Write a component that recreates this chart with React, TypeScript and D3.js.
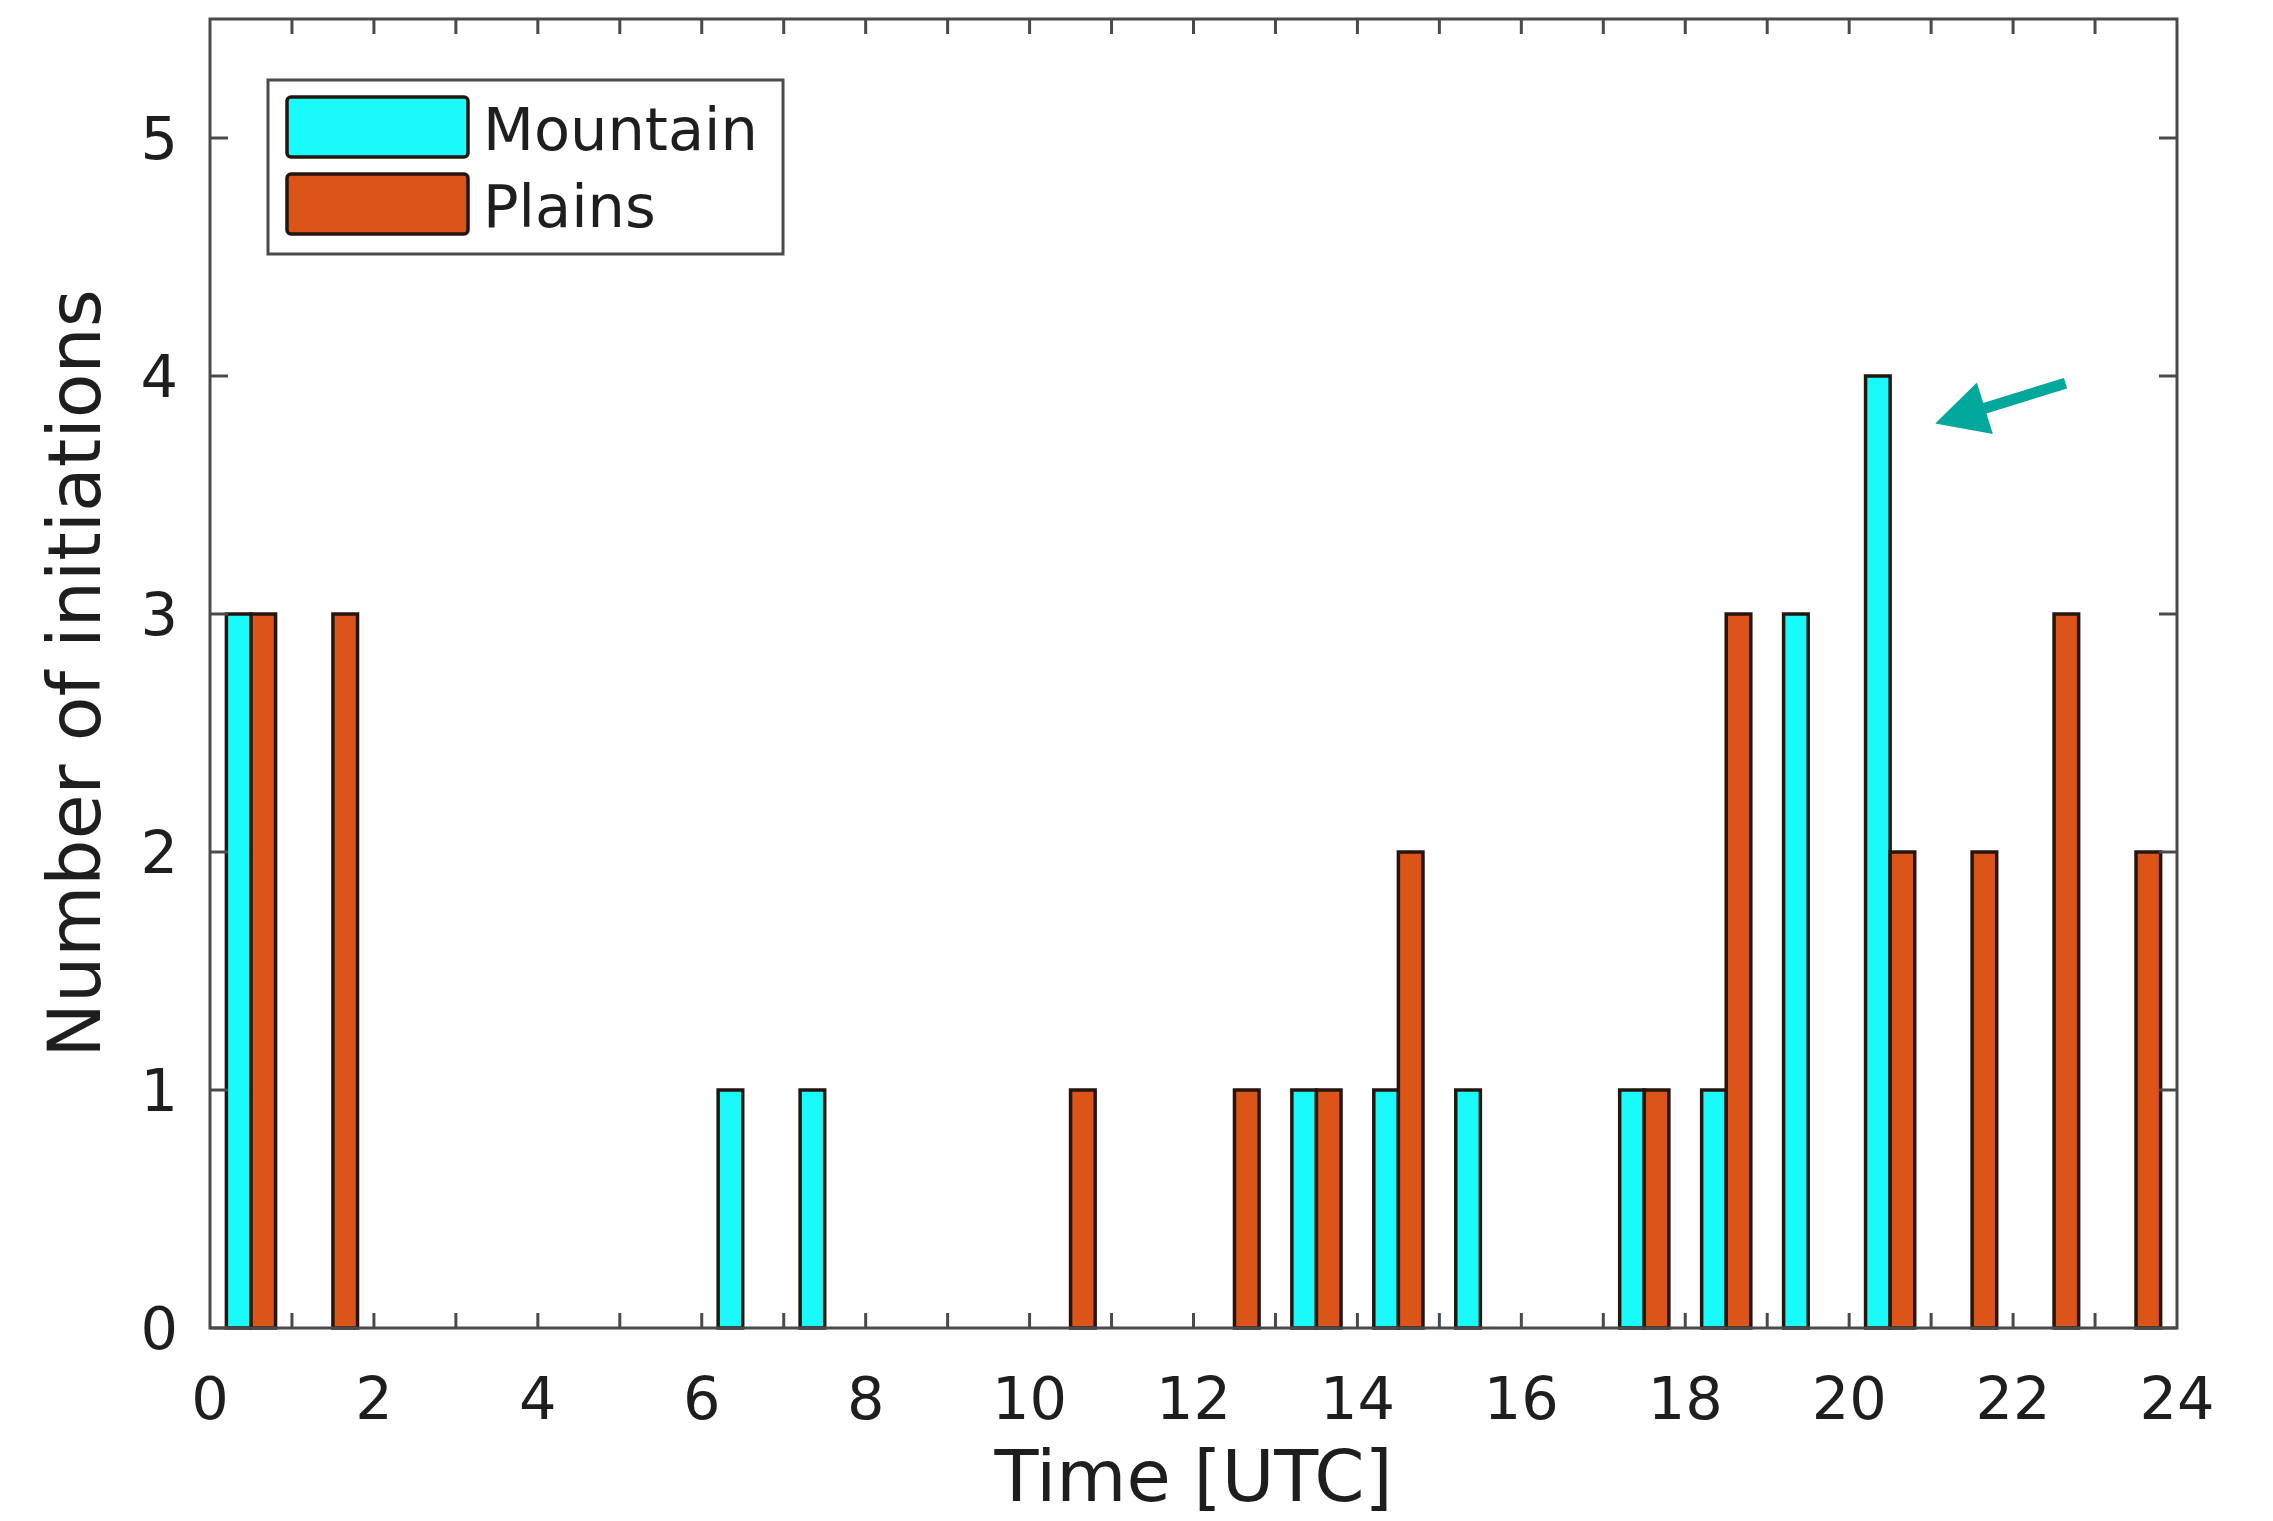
import React, { useRef, useEffect } from "react";
import * as d3 from "d3";

// hourly bins (start hour of each bin)
const binStarts = [0, 1, 2, 3, 4, 5, 6, 7, 8, 9, 10, 11, 12, 13, 14, 15, 16, 17, 18, 19, 20, 21, 22, 23];
const mountainCounts = [3, 0, 0, 0, 0, 0, 1, 1, 0, 0, 0, 0, 0, 1, 1, 1, 0, 1, 1, 3, 4, 0, 0, 0];
const plainsCounts = [3, 3, 0, 0, 0, 0, 0, 0, 0, 0, 1, 0, 1, 1, 2, 0, 0, 1, 3, 0, 2, 2, 3, 2];
const seriesNames = ["Mountain", "Plains"];
const seriesColors = ["#19fbfb", "#dc5518"];
const xTickLabels = [0, 2, 4, 6, 8, 10, 12, 14, 16, 18, 20, 22, 24];
const xMinorTicks = [1, 2, 3, 4, 5, 6, 7, 8, 9, 10, 11, 12, 13, 14, 15, 16, 17, 18, 19, 20, 21, 22, 23];
const yTickLabels = [0, 1, 2, 3, 4, 5];
// annotation arrow, in data units: tail -> tip
const arrowTail = [22.64, 3.97];
const arrowTip = [21.05, 3.8];

const W = 2273;
const H = 1521;
const margin = { top: 19, right: 96, bottom: 193, left: 210 };
const FONT = "'DejaVu Sans', sans-serif";

function App() {
  const svgRef = useRef(null);

  useEffect(() => {
    const svg = d3.select(svgRef.current);
    svg.selectAll("*").remove();

    const x = d3.scaleLinear().domain([0, 24]).range([margin.left, W - margin.right]);
    const y = d3.scaleLinear().domain([0, 5.5]).range([H - margin.bottom, margin.top]);

    const rows = binStarts.map((h, i) => ({ hour: h, values: [mountainCounts[i], plainsCounts[i]] }));

    // bars
    const groups = svg.append("g").selectAll("g").data(rows).join("g");
    groups.each(function (d) {
      const inner = d3.scaleBand().domain(seriesNames).range([x(d.hour + 0.2), x(d.hour + 0.8)]).padding(0);
      d3.select(this)
        .selectAll("rect")
        .data(d.values.map((v, k) => ({ v, k })).filter((e) => e.v > 0))
        .join("rect")
        .attr("x", (e) => inner(seriesNames[e.k]))
        .attr("width", inner.bandwidth())
        .attr("y", (e) => y(e.v))
        .attr("height", (e) => y(0) - y(e.v))
        .attr("fill", (e) => seriesColors[e.k])
        .attr("stroke", "#24160f")
        .attr("stroke-width", 3.5);
    });

    const axisColor = "#4a4a4a";
    const x0 = x(0), x1 = x(24), y0 = y(0), y1 = y(5.5);

    // ticks (inward, both sides)
    const ticks = svg.append("g").attr("stroke", axisColor).attr("stroke-width", 3);
    ticks.selectAll(".xb").data(xMinorTicks).join("line")
      .attr("x1", (d) => x(d)).attr("x2", (d) => x(d)).attr("y1", y0).attr("y2", y0 - 15);
    ticks.selectAll(".xt").data(xMinorTicks).join("line")
      .attr("x1", (d) => x(d)).attr("x2", (d) => x(d)).attr("y1", y1).attr("y2", y1 + 15);
    ticks.selectAll(".yl").data(yTickLabels).join("line")
      .attr("x1", x0).attr("x2", x0 + 18).attr("y1", (d) => y(d)).attr("y2", (d) => y(d));
    ticks.selectAll(".yr").data(yTickLabels).join("line")
      .attr("x1", x1).attr("x2", x1 - 18).attr("y1", (d) => y(d)).attr("y2", (d) => y(d));

    // box
    svg.append("rect")
      .attr("x", x0).attr("y", y1).attr("width", x1 - x0).attr("height", y0 - y1)
      .attr("fill", "none").attr("stroke", axisColor).attr("stroke-width", 3);

    // tick labels
    svg.append("g").selectAll("text").data(xTickLabels).join("text")
      .attr("x", (d) => x(d)).attr("y", y0 + 91)
      .attr("text-anchor", "middle")
      .attr("font-family", FONT).attr("font-size", 59).attr("fill", "#1e1e1e")
      .text((d) => d);
    svg.append("g").selectAll("text").data(yTickLabels).join("text")
      .attr("x", x0 - 32).attr("y", (d) => y(d) + 21)
      .attr("text-anchor", "end")
      .attr("font-family", FONT).attr("font-size", 59).attr("fill", "#1e1e1e")
      .text((d) => d);

    // axis labels
    svg.append("text")
      .attr("x", (x0 + x1) / 2).attr("y", H - 20)
      .attr("text-anchor", "middle")
      .attr("font-family", FONT).attr("font-size", 72).attr("fill", "#1e1e1e")
      .text("Time [UTC]");
    svg.append("text")
      .attr("transform", `translate(100,${(y0 + y1) / 2}) rotate(-90)`)
      .attr("text-anchor", "middle")
      .attr("font-family", FONT).attr("font-size", 73).attr("fill", "#1e1e1e")
      .text("Number of initiations");

    // legend
    const lg = svg.append("g").attr("transform", "translate(268,80)");
    lg.append("rect").attr("width", 515).attr("height", 174)
      .attr("fill", "#fff").attr("stroke", axisColor).attr("stroke-width", 3);
    seriesNames.forEach((name, k) => {
      lg.append("rect")
        .attr("x", 19).attr("y", 17 + k * 77).attr("width", 181).attr("height", 60)
        .attr("rx", 4)
        .attr("fill", seriesColors[k]).attr("stroke", "#24160f").attr("stroke-width", 3.5);
      lg.append("text")
        .attr("x", 215).attr("y", 70 + k * 77)
        .attr("font-family", FONT).attr("font-size", 59).attr("fill", "#1e1e1e")
        .text(name);
    });

    // annotation arrow
    const tx = x(arrowTail[0]), ty = y(arrowTail[1]);
    const hx = x(arrowTip[0]), hy = y(arrowTip[1]);
    const ang = Math.atan2(hy - ty, hx - tx);
    const headLen = 52, headHalf = 27;
    const bx = hx - headLen * Math.cos(ang), by = hy - headLen * Math.sin(ang);
    const px = -Math.sin(ang), py = Math.cos(ang);
    const arrowColor = "#03a89c";
    svg.append("line")
      .attr("x1", tx).attr("y1", ty).attr("x2", bx + 6 * Math.cos(ang)).attr("y2", by + 6 * Math.sin(ang))
      .attr("stroke", arrowColor).attr("stroke-width", 11);
    svg.append("path")
      .attr("d", `M${hx},${hy}L${bx + headHalf * px},${by + headHalf * py}L${bx - headHalf * px},${by - headHalf * py}Z`)
      .attr("fill", arrowColor);
  }, []);

  return (
    <svg
      ref={svgRef}
      width={W}
      height={H}
      style={{ position: "absolute", left: 0, top: 0, background: "#fff" }}
    ></svg>
  );
}

export default App;
